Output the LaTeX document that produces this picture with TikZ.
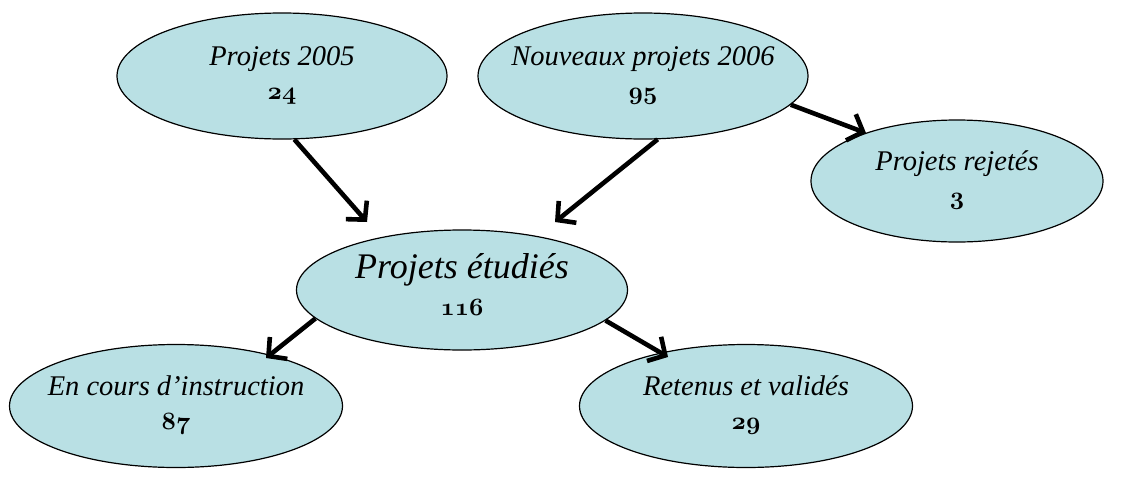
\documentclass[tikz,border=0pt]{standalone}
\usepackage{fontspec}
\setmainfont{Liberation Serif}
\usetikzlibrary{shapes.geometric,arrows.meta}
\definecolor{elfill}{RGB}{185,224,228}
\newcommand\onum[1]{{\fontsize{31}{34}\usefont{OML}{cmm}{b}{it}#1}}
\newcommand\eltext[2]{\makebox[0pt]{\begin{tabular}{@{}c@{}}\itshape #1\\\onum{#2}\end{tabular}}}
\begin{document}
\begin{tikzpicture}[x=1pt,y=-1pt,
  el/.style={ellipse,draw=black,line width=1.2pt,fill=elfill,inner sep=0pt,
    font=\fontsize{28.5}{34}\selectfont},
  big/.style={font=\fontsize{36}{37}\selectfont},
  arr/.style={line width=4.6pt,-{Straight Barb[length=13pt,width=28pt]}}]
\useasboundingbox (0,0) rectangle (1133,477);
\node[el,minimum width=330pt,minimum height=126pt] (p05) at (282,76) {\eltext{Projets 2005}{24}};
\node[el,minimum width=330pt,minimum height=126pt] (np) at (643,76) {\eltext{Nouveaux projets 2006}{95}};
\node[el,minimum width=292pt,minimum height=122pt] (rej) at (957,181) {\eltext{Projets rejetés}{3}};
\node[el,big,minimum width=331pt,minimum height=120pt] (etu) at (462,290) {\eltext{Projets étudiés}{116}};
\node[el,minimum width=333pt,minimum height=123pt] (enc) at (176,406) {\eltext{En cours d’instruction}{87}};
\node[el,minimum width=333pt,minimum height=123pt] (ret) at (746,406) {\eltext{Retenus et validés}{29}};
\coordinate (e1) at (367,222);
\coordinate (e2) at (555,222);
\coordinate (e3) at (866,133);
\coordinate (e4) at (266,358);
\coordinate (e5) at (668,357);
\draw[arr] (p05.-79) -- (e1);
\draw[arr] (np.-77) -- (e2);
\draw[arr] (np.-11) -- (e3);
\draw[arr] (etu.191) -- (e4);
\draw[arr] (etu.-12) -- (e5);
\end{tikzpicture}
\end{document}
